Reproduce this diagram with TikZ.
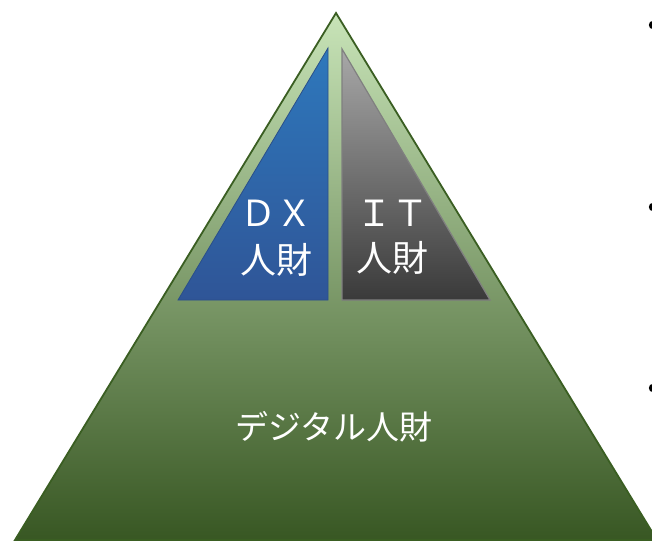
\documentclass[tikz,border=0pt]{standalone}
\usepackage{fontspec}
\newfontfamily\jp{Noto Sans CJK JP}
\definecolor{pyrline}{HTML}{3A5E22}
\definecolor{pyrtop}{HTML}{C8E4B8}
\definecolor{pyrbot}{HTML}{385723}
\definecolor{dxtop}{HTML}{2E78BC}
\definecolor{dxbot}{HTML}{2F5597}
\definecolor{dxline}{HTML}{2A4F8A}
\definecolor{ittop}{HTML}{A8A8A8}
\definecolor{itbot}{HTML}{3A3A3A}
\definecolor{itline}{HTML}{808080}
\tikzset{
  lbl/.style={text=white, font=\jp\fontsize{36}{40}\selectfont, align=center, inner sep=0pt},
  biglbl/.style={text=white, font=\jp\fontsize{33}{38}\selectfont, align=center, inner sep=0pt},
  dot/.style={fill=black}
}
\begin{document}
\begin{tikzpicture}[x=1pt,y=-1pt]
\useasboundingbox (0,0) rectangle (652,540);
\begin{scope}
\clip (0,0) rectangle (652,540);
% big pyramid
\shade[top color=pyrtop, bottom color=pyrbot, draw=pyrline, line width=1.8pt]
  (336,13) -- (15,540) -- (657,540) -- cycle;
% DX triangle
\shade[top color=dxtop, bottom color=dxbot, draw=dxline, line width=0.8pt]
  (328,48) -- (178,300) -- (328,300) -- cycle;
% IT triangle
\shade[top color=ittop, bottom color=itbot, draw=itline, line width=1.2pt]
  (342,49) -- (342,300) -- (490,300) -- cycle;
% bullets
\fill[dot] (653,25) circle (4.2);
\fill[dot] (653,207) circle (4.2);
\fill[dot] (653,388) circle (4.2);
\end{scope}
\node[lbl] (dx) at (276,213) {ＤＸ};
\node[lbl] (dxj) at (276,260) {人財};
\node[lbl] (it) at (392,213) {ＩＴ};
\node[lbl] (itj) at (392,258) {人財};
\node[biglbl] (dg) at (334,427) {デジタル人財};
\end{tikzpicture}
\end{document}
